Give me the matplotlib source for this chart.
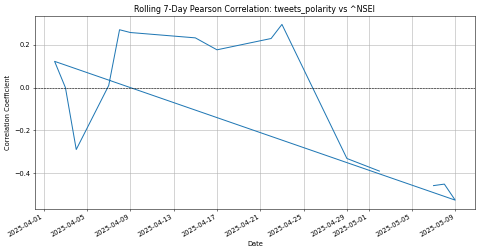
import matplotlib
matplotlib.use("Agg")
import matplotlib.pyplot as plt
import pandas as pd

# rolling correlation values, in the order they appear in the series
dates = ["2025-05-07", "2025-05-08", "2025-05-09", "2025-04-02", "2025-04-03",
         "2025-04-04", "2025-04-07", "2025-04-08", "2025-04-09", "2025-04-15",
         "2025-04-17", "2025-04-22", "2025-04-23", "2025-04-29", "2025-05-02"]
corr = [-0.459, -0.452, -0.527, 0.123, 0.0,
        -0.29, 0.01, 0.271, 0.258, 0.233,
        0.177, 0.23, 0.296, -0.332, -0.391]

x = pd.to_datetime(dates)

fig, ax = plt.subplots(figsize=(10, 5.25), dpi=48)
ax.plot(x, corr)
ax.axhline(0, color='black', linestyle='--', linewidth=0.8)

ax.set_title("Rolling 7-Day Pearson Correlation: tweets_polarity vs ^NSEI")
ax.set_xlabel("Date")
ax.set_ylabel("Correlation Coefficient")
ax.grid(True)
fig.autofmt_xdate()

fig.subplots_adjust(left=0.072, right=0.99, top=0.938, bottom=0.171)
plt.savefig("out.png", dpi=48)
